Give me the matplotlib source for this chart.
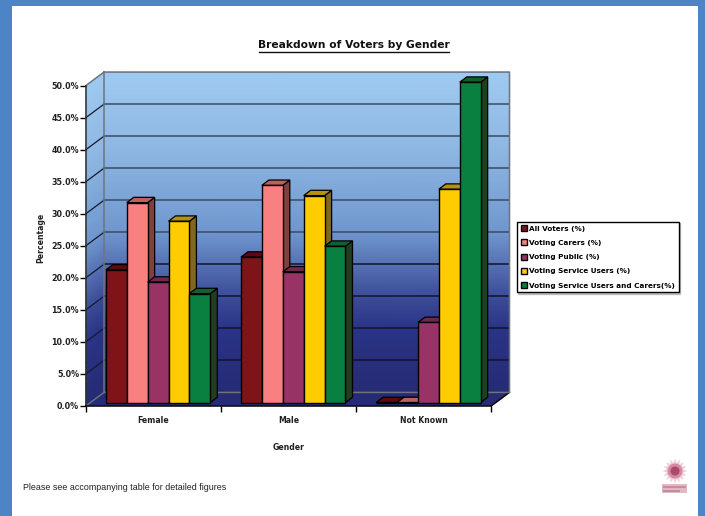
import numpy as np
import matplotlib
matplotlib.use("Agg")
import matplotlib.pyplot as plt
from matplotlib.colors import LinearSegmentedColormap
from matplotlib.lines import Line2D
from matplotlib.patches import Polygon, Rectangle

categories = ["Female", "Male", "Not Known"]
series_names = [
    "All Voters (%)",
    "Voting Carers (%)",
    "Voting Public (%)",
    "Voting Service Users (%)",
    "Voting Service Users and Carers(%)",
]
all_voters = [20.7, 22.7, 0.0]
voting_carers = [31.2, 33.9, 0.0]
voting_public = [18.8, 20.4, 12.5]
voting_service_users = [28.3, 32.3, 33.3]
voting_users_carers = [17.0, 24.4, 50.0]
series_values = [all_voters, voting_carers, voting_public,
                 voting_service_users, voting_users_carers]
y_ticks = [0, 5, 10, 15, 20, 25, 30, 35, 40, 45, 50]

front_colors = ["#7F1418", "#F98080", "#993366", "#FFCC00", "#0A8040"]
side_colors = ["#4A0A10", "#804040", "#5E2442", "#806820", "#1F4020"]
top_colors = ["#5C0A10", "#BC6060", "#702850", "#B89010", "#106030"]

W, H = 705, 516
fig = plt.figure(figsize=(W / 100, H / 100), dpi=100, facecolor="#4C84C6")
plt.rcParams["font.family"] = "DejaVu Sans"

# white page inside the blue frame
fig.patches.append(Rectangle((12 / W, 0), 686 / W, 1 - 6 / H, transform=fig.transFigure,
                             facecolor="white", edgecolor="none", zorder=-1))

left, right, bottom, top = 86, 491.5, 405.8, 85.5
ax = fig.add_axes([left / W, 1 - bottom / H, (right - left) / W, (bottom - top) / H])
ax.patch.set_visible(False)
ax.set_xlim(0, 3)
ax.set_ylim(0, 50)

# data units per pixel, used for the fake 3D depth
ux = 3 / (right - left)
uy = 50 / (bottom - top)
wall_dx, wall_dy = 18 * ux, 13.4 * uy


def depth(x, y, dx_px, dy_px):
    return x + dx_px * ux, y + dy_px * uy


wall_cmap = LinearSegmentedColormap.from_list(
    "wall", [(0, "#262B74"), (0.2, "#2A3486"), (0.3, "#3C4C98"), (0.5, "#6F97CE"),
             (0.75, "#8DB6E2"), (1, "#9FCAF0")])

# back wall and left wall gradients
yy = np.linspace(0, 50, 60)
shade = np.column_stack([yy / 50, yy / 50])
xb = np.array([[wall_dx, 3 + wall_dx]] * 60)
yb = np.column_stack([yy + wall_dy, yy + wall_dy])
ax.pcolormesh(xb, yb, shade, cmap=wall_cmap, shading="gouraud", clip_on=False, zorder=0)
xs = np.array([[0, wall_dx]] * 60)
ys = np.column_stack([yy, yy + wall_dy])
ax.pcolormesh(xs, ys, shade, cmap=wall_cmap, shading="gouraud", clip_on=False, zorder=0)

# floor
floor = [(0, 0), (3, 0), (3 + wall_dx, wall_dy), (wall_dx, wall_dy)]
ax.add_patch(Polygon(floor, closed=True, facecolor="#262B74", edgecolor="none",
                     clip_on=False, zorder=0.5))
ax.add_line(Line2D([3, 3 + wall_dx], [0, wall_dy], color="black", lw=1, clip_on=False, zorder=1))

# gridlines along the walls
for t in y_ticks[1:-1]:
    c = "#3A4A66" if t > 20 else "#10142E"
    ax.add_line(Line2D([wall_dx, 3 + wall_dx], [t + wall_dy] * 2, color=c, lw=1.1,
                       clip_on=False, zorder=1))
    ax.add_line(Line2D([0, wall_dx], [t, t + wall_dy], color="#15192E", lw=0.9,
                       clip_on=False, zorder=1))

# wall outlines
wall_edge = "#6E747E"
ax.add_line(Line2D([0, wall_dx, 3 + wall_dx, 3 + wall_dx, wall_dx, wall_dx],
                   [50, 50 + wall_dy, 50 + wall_dy, wall_dy, wall_dy, 50 + wall_dy],
                   color=wall_edge, lw=1.1, clip_on=False, zorder=1))
ax.add_line(Line2D([0, wall_dx], [0, wall_dy], color=wall_edge, lw=1.0, clip_on=False, zorder=1))

# bars: front faces come from ax.bar, the side and top faces are built from each bar
n_series = len(series_values)
bar_w = 20.9 * ux
shift_x, shift_y = 4.5 * ux, 3.3 * uy
centers = np.arange(len(categories)) + 0.5
handles = []
for s, values in enumerate(series_values):
    xpos = centers + (s - (n_series - 1) / 2) * bar_w + shift_x
    bars = ax.bar(xpos, values, width=bar_w, bottom=shift_y, color=front_colors[s],
                  edgecolor="black", linewidth=1.0, clip_on=False)
    handles.append(bars[0])
    for c, b in enumerate(bars):
        z = 3 + c * 10 + s
        b.set_zorder(z + 0.1)
        x0, x1 = b.get_x(), b.get_x() + b.get_width()
        y0, y1 = b.get_y(), b.get_y() + b.get_height()
        side = [(x1, y0), depth(x1, y0, 7, 5.3), depth(x1, y1, 7, 5.3), (x1, y1)]
        cap = [(x0, y1), (x1, y1), depth(x1, y1, 7, 5.3), depth(x0, y1, 7, 5.3)]
        ax.add_patch(Polygon(side, closed=True, facecolor=side_colors[s], edgecolor="black",
                             lw=0.9, clip_on=False, zorder=z))
        ax.add_patch(Polygon(cap, closed=True, facecolor=top_colors[s], edgecolor="black",
                             lw=0.9, clip_on=False, zorder=z))

# axes
for name in ("top", "right"):
    ax.spines[name].set_visible(False)
ax.spines["left"].set_color("#303030")
ax.spines["left"].set_linewidth(1.1)
ax.spines["bottom"].set_linewidth(1.1)
ax.spines["left"].set_zorder(2)
ax.spines["bottom"].set_zorder(2)
ax.set_yticks(y_ticks)
ax.set_yticklabels([f"{t:.1f}%" for t in y_ticks], fontsize=5.8, fontweight="bold",
                   color="#202020")
ax.tick_params(axis="y", length=4, width=1, pad=1)
ax.set_xticks([0, 1, 2, 3])
ax.set_xticklabels([])
ax.tick_params(axis="x", length=4.5, width=1)
ax.set_xticks(centers, minor=True)
ax.set_xticklabels(categories, minor=True, fontsize=5.6, fontweight="bold", color="#202020")
ax.tick_params(axis="x", which="minor", length=0, pad=7.5)

fig.text(289 / W, 1 - 447 / H, "Gender", fontsize=5.6, fontweight="bold", color="#202020",
         ha="center", va="center")
fig.text(41 / W, 1 - 238 / H, "Percentage", fontsize=5.6, fontweight="bold", color="#202020",
         rotation=90, ha="center", va="center")

# title with its underline
fig.text(354 / W, 1 - 45 / H, "Breakdown of Voters by Gender", fontsize=7.65, fontweight="bold",
         color="#101010", ha="center", va="center")
fig.add_artist(Line2D([259 / W, 449 / W], [1 - 51.5 / H] * 2, color="#101010", lw=1.0))

leg = ax.legend(handles, series_names, loc="upper left",
                bbox_to_anchor=(517 / W, 1 - 221.5 / H), bbox_transform=fig.transFigure,
                prop={"weight": "bold", "size": 5.25}, frameon=True, fancybox=False,
                edgecolor="black", framealpha=1, shadow={"ox": 1, "oy": -1, "color": "#909090"},
                borderpad=0.5, labelspacing=1.08, handlelength=0.85, handleheight=0.85,
                handletextpad=0.3, borderaxespad=0)
leg.get_frame().set_linewidth(1.0)
leg.set_zorder(100)

fig.text(23 / W, 1 - 487 / H, "Please see accompanying table for detailed figures",
         fontsize=6.4, family="Liberation Sans", color="#202020", ha="left", va="center")

# small rosette logo, bottom right
logo = fig.add_axes([660 / W, 1 - 495 / H, 28 / W, 36 / H])
logo.set_xlim(0, 28)
logo.set_ylim(36, 0)
logo.axis("off")
ang = np.linspace(0, 2 * np.pi, 33)
rad = np.where(np.arange(33) % 2 == 0, 12.5, 8)
logo.fill(15 + rad * np.cos(ang), 12 + rad * np.sin(ang), color="#F0CCD6", lw=0)
logo.fill(15 + 7.5 * np.cos(ang), 12 + 7.5 * np.sin(ang), color="#D58AA2", lw=0)
logo.fill(15 + 4.5 * np.cos(ang), 12 + 4.5 * np.sin(ang), color="#A84A6C", lw=0)
logo.add_patch(Rectangle((2, 25), 25, 9, facecolor="#E2B8C4", edgecolor="none"))
logo.add_patch(Rectangle((3, 27), 23, 1.5, facecolor="#C88CA0", edgecolor="none"))
logo.add_patch(Rectangle((3, 31), 17, 1.5, facecolor="#C88CA0", edgecolor="none"))

fig.savefig("out.png", dpi=100, facecolor=fig.get_facecolor())
